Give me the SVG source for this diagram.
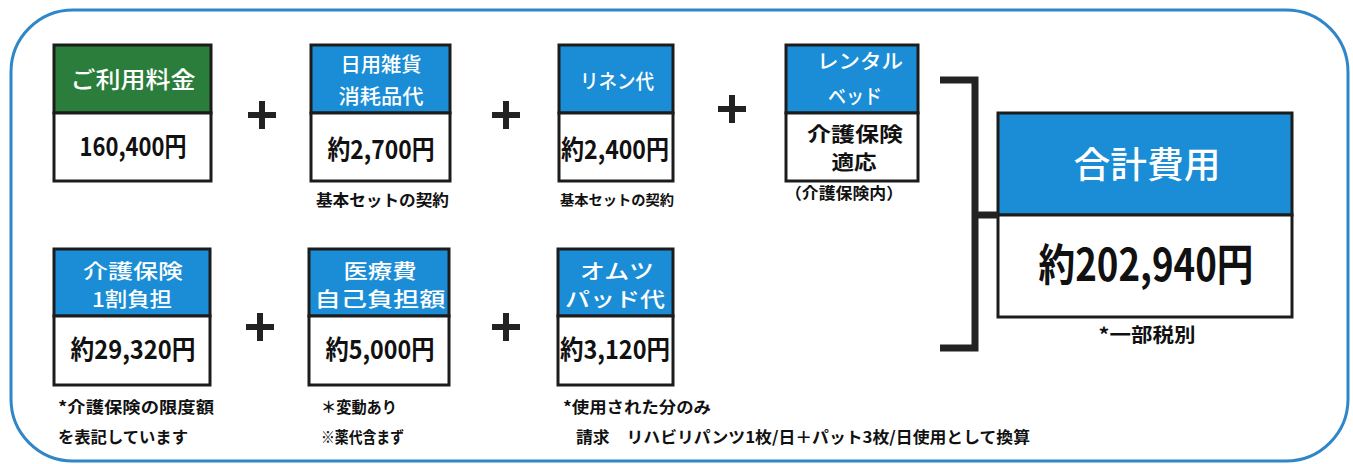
<svg xmlns="http://www.w3.org/2000/svg" xmlns:xlink="http://www.w3.org/1999/xlink" width="1353" height="464" viewBox="0 0 1353 464">
<style>
text{font-family:"Noto Sans CJK JP","Noto Sans",sans-serif}
.frame{fill:none;stroke:#2f86c8;stroke-width:3}
.hb{fill:#1a8dd6;stroke:#1c1c1c;stroke-width:3}
.hg{fill:#2b7d3b;stroke:#1c1c1c;stroke-width:3}
.bd{fill:#fff;stroke:#1c1c1c;stroke-width:3}
.ht{fill:#fff;text-anchor:middle;font-weight:500}
.vt{fill:#111;text-anchor:middle;font-weight:700}
.cap{fill:#111;font-weight:700}
.conn{fill:none;stroke:#222;stroke-width:7}
</style>
<defs>
<path id="plus" d="M-14,0 H14 M0,-14 V14" stroke="#222" stroke-width="6" fill="none"/>
</defs>
<rect width="1353" height="464" fill="#fff"/>
<rect class="frame" x="11" y="10" width="1337" height="451" rx="62"/>

<g id="n-riyou">
<rect class="hg" x="54" y="45" width="157" height="68"/>
<rect class="bd" x="54" y="113" width="157" height="68"/>
<text class="ht" x="133" y="88" font-size="23" textLength="125" lengthAdjust="spacingAndGlyphs">ご利用料金</text>
<text class="vt" x="133" y="156" font-size="26" textLength="107" lengthAdjust="spacingAndGlyphs">160,400円</text>
</g>

<g id="n-nichiyou">
<rect class="hb" x="311" y="45" width="139" height="68"/>
<rect class="bd" x="311" y="113" width="139" height="68"/>
<text class="ht" x="381" y="72" font-size="20" textLength="81" lengthAdjust="spacingAndGlyphs">日用雑貨</text>
<text class="ht" x="381" y="104" font-size="20" textLength="85" lengthAdjust="spacingAndGlyphs">消耗品代</text>
<text class="vt" x="381" y="159" font-size="26" textLength="107" lengthAdjust="spacingAndGlyphs">約2,700円</text>
<text class="cap" x="316" y="206" font-size="16" textLength="133" lengthAdjust="spacingAndGlyphs">基本セットの契約</text>
</g>

<g id="n-linen">
<rect class="hb" x="559" y="45" width="114" height="68"/>
<rect class="bd" x="559" y="113" width="114" height="68"/>
<text class="ht" x="617" y="89" font-size="20" textLength="74" lengthAdjust="spacingAndGlyphs">リネン代</text>
<text class="vt" x="615" y="159" font-size="26" textLength="108" lengthAdjust="spacingAndGlyphs">約2,400円</text>
<text class="cap" x="560" y="205" font-size="14" textLength="114" lengthAdjust="spacingAndGlyphs">基本セットの契約</text>
</g>

<g id="n-bed">
<rect class="hb" x="786" y="45" width="132" height="68"/>
<rect class="bd" x="786" y="113" width="132" height="68"/>
<text class="ht" x="860" y="69" font-size="20" textLength="86" lengthAdjust="spacingAndGlyphs">レンタル</text>
<text class="ht" x="855" y="104" font-size="20" textLength="54" lengthAdjust="spacingAndGlyphs">ベッド</text>
<text class="vt" x="855" y="142" font-size="20" textLength="96" lengthAdjust="spacingAndGlyphs">介護保険</text>
<text class="vt" x="854" y="170" font-size="20" textLength="45" lengthAdjust="spacingAndGlyphs">適応</text>
<text class="cap" x="844" y="199" font-size="16" text-anchor="middle" textLength="118" lengthAdjust="spacingAndGlyphs">（介護保険内）</text>
</g>

<g id="n-total">
<rect class="hb" x="998" y="113" width="294" height="102"/>
<rect class="bd" x="998" y="215" width="294" height="102"/>
<text class="ht" x="1147" y="178" font-size="36" font-weight="400" textLength="147" lengthAdjust="spacingAndGlyphs">合計費用</text>
<text class="vt" x="1146" y="281" font-size="44" textLength="215" lengthAdjust="spacingAndGlyphs">約202,940円</text>
<text class="cap" x="1147" y="342" font-size="19" text-anchor="middle" textLength="97" lengthAdjust="spacingAndGlyphs">*一部税別</text>
</g>

<g id="n-kaigo">
<rect class="hb" x="54" y="249" width="156" height="67"/>
<rect class="bd" x="54" y="316" width="156" height="69"/>
<text class="ht" x="133" y="279" font-size="20" textLength="100" lengthAdjust="spacingAndGlyphs">介護保険</text>
<text class="ht" x="132" y="307" font-size="20" textLength="80" lengthAdjust="spacingAndGlyphs">1割負担</text>
<text class="vt" x="133" y="359" font-size="26" textLength="125" lengthAdjust="spacingAndGlyphs">約29,320円</text>
<text class="cap" x="58" y="413" font-size="16" textLength="156" lengthAdjust="spacingAndGlyphs">*介護保険の限度額</text>
<text class="cap" x="58" y="443" font-size="16" textLength="130" lengthAdjust="spacingAndGlyphs">を表記しています</text>
</g>

<g id="n-iryou">
<rect class="hb" x="309" y="249" width="140" height="67"/>
<rect class="bd" x="309" y="316" width="140" height="69"/>
<text class="ht" x="380" y="279" font-size="20" textLength="73" lengthAdjust="spacingAndGlyphs">医療費</text>
<text class="ht" x="380" y="307" font-size="20" textLength="131" lengthAdjust="spacingAndGlyphs">自己負担額</text>
<text class="vt" x="380" y="359" font-size="26" textLength="109" lengthAdjust="spacingAndGlyphs">約5,000円</text>
<text class="cap" x="321" y="413" font-size="16" textLength="76" lengthAdjust="spacingAndGlyphs">＊変動あり</text>
<text class="cap" x="321" y="443" font-size="16" textLength="83" lengthAdjust="spacingAndGlyphs">※薬代含まず</text>
</g>

<g id="n-omutsu">
<rect class="hb" x="558" y="249" width="115" height="67"/>
<rect class="bd" x="558" y="316" width="115" height="69"/>
<text class="ht" x="617" y="279" font-size="20" textLength="74" lengthAdjust="spacingAndGlyphs">オムツ</text>
<text class="ht" x="615" y="307" font-size="20" textLength="100" lengthAdjust="spacingAndGlyphs">パッド代</text>
<text class="vt" x="615" y="359" font-size="26" textLength="110" lengthAdjust="spacingAndGlyphs">約3,120円</text>
<text class="cap" x="563" y="413" font-size="16" textLength="148" lengthAdjust="spacingAndGlyphs">*使用された分のみ</text>
<text class="cap" x="576" y="443" font-size="16" textLength="454" lengthAdjust="spacingAndGlyphs">請求　リハビリパンツ1枚/日＋パット3枚/日使用として換算</text>
</g>

<g id="connectors">
<use xlink:href="#plus" href="#plus" x="262" y="115"/>
<use xlink:href="#plus" href="#plus" x="506" y="115"/>
<use xlink:href="#plus" href="#plus" x="732" y="109"/>
<use xlink:href="#plus" href="#plus" x="260" y="327"/>
<use xlink:href="#plus" href="#plus" x="506" y="327"/>
<path class="conn" d="M940,80 H975 V348 H940"/>
<path class="conn" d="M975,215 H998"/>
</g>
</svg>
